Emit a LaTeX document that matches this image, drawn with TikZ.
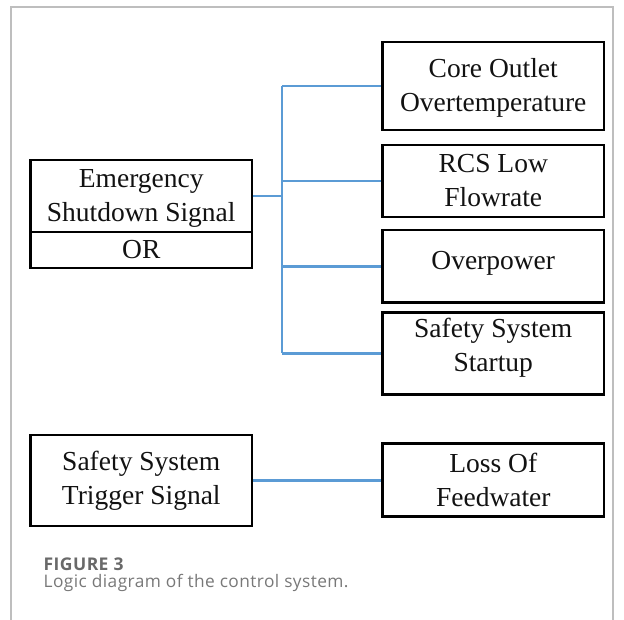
\documentclass[tikz,border=0pt]{standalone}
\usepackage{fontspec}
\setmainfont{Liberation Serif}
\newfontfamily\capfont{Open Sans}[LetterSpace=2.5]
\usetikzlibrary{calc}
\definecolor{connblue}{RGB}{91,155,213}
\definecolor{framegray}{RGB}{190,190,190}
\definecolor{capgray}{RGB}{105,105,105}
\definecolor{capgraylight}{RGB}{120,120,120}
\newcommand\sT{\rule[-7pt]{0pt}{32pt}}
\newcommand\sD[1]{\rule[-#1]{0pt}{#1}}
\tikzset{
  diagbox/.style={draw=black, line width=2.6pt, inner sep=0pt, align=center,
    minimum width=221.5pt, font=\fontsize{27.5pt}{34pt}\selectfont, text=black!93},
  conn/.style={draw=connblue, line width=2.5pt},
  framebox/.style={draw=framegray, line width=1.1pt},
}
\begin{document}
\begin{tikzpicture}[x=1pt, y=-1pt]
\useasboundingbox (0,0) rectangle (624,620);
\draw[framebox] (11,620) -- (11,7) -- (613,7) -- (613,620);

\node[diagbox, minimum height=72pt] (esd) at (141.25,196) {\sT Emergency\\Shutdown Signal\sT};
\node[diagbox, minimum height=36pt] (orb) at (141.25,250) {\sT OR};

\node[diagbox, minimum height=88pt] (core) at (493.25,86) {\sT Core Outlet\\Overtemperature\sT};
\node[diagbox, minimum height=72pt] (rcs) at (493.25,181) {\sT RCS Low\\Flowrate\sT};
\node[diagbox, minimum height=72.7pt] (op) at (493.25,266.3) {\sT Overpower\sD{17.6pt}};
\node[diagbox, minimum height=73.3pt] (sss) at (493.25,353.3) {\sT Safety System\\Startup\sD{23pt}};

\node[diagbox, minimum height=91pt] (sst) at (141.3,480.5) {\sT Safety System\\Trigger Signal\sD{12pt}};
\node[diagbox, minimum height=73.4pt] (loss) at (493.3,480) {\sT Loss Of\\Feedwater\sT};

\coordinate (jn) at (282,196);
\draw[conn] (esd.east) -- (jn);
\draw[conn] (jn |- core.west) -- (jn |- sss.west);
\draw[conn] (jn |- core.west) -- (core.west);
\draw[conn] (jn |- rcs.west) -- (rcs.west);
\draw[conn] (jn |- op.west) -- (op.west);
\draw[conn] (jn |- sss.west) -- (sss.west);
\draw[conn] (sst.east) -- (sst.east -| loss.west);

\node[anchor=base west, inner sep=0pt, font=\capfont\bfseries\fontsize{17.5pt}{20pt}\selectfont, text=capgray] (figlabel) at (43.5,570) {FIGURE 3};
\node[anchor=base west, inner sep=0pt, font=\capfont\fontsize{17.3pt}{20pt}\selectfont, text=capgraylight] (figcap) at (43.5,587.5) {Logic diagram of the control system.};
\end{tikzpicture}
\end{document}
